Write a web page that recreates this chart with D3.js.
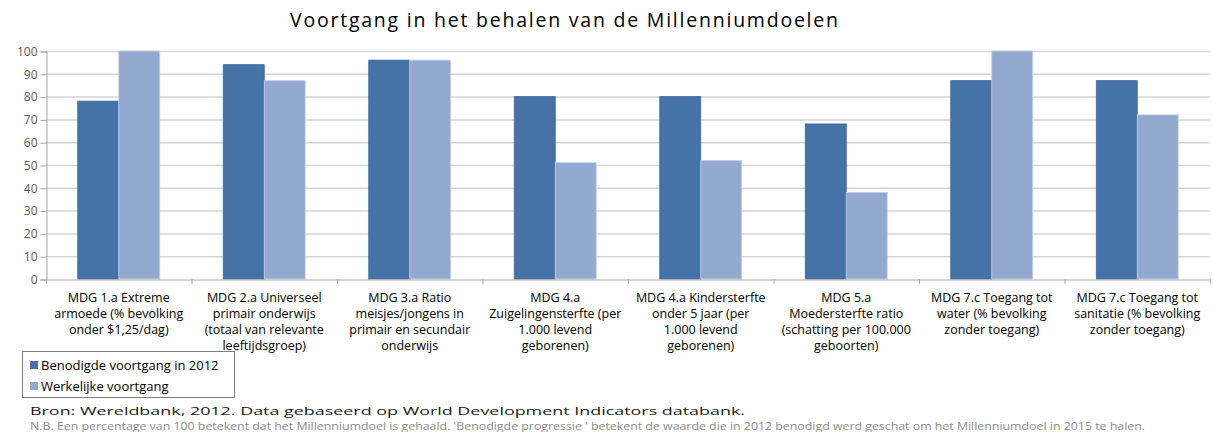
<!DOCTYPE html>
<html>
<head>
<meta charset="utf-8">
<script src="https://cdn.jsdelivr.net/npm/d3@7"></script>
<style>
  body { margin: 0; background: #fff; }
  svg { font-family: "Open Sans", "DejaVu Sans", sans-serif; }
</style>
</head>
<body>
<div id="chart"></div>
<script>
var categories = [
	['MDG 1.a Extreme', 'armoede (% bevolking', 'onder $1,25/dag)'],
	['MDG 2.a Universeel', 'primair onderwijs', '(totaal van relevante', 'leeftijdsgroep)'],
	['MDG 3.a Ratio', 'meisjes/jongens in', 'primair en secundair', 'onderwijs'],
	['MDG 4.a', 'Zuigelingensterfte (per', '1.000 levend', 'geborenen)'],
	['MDG 4.a Kindersterfte', 'onder 5 jaar (per', '1.000 levend', 'geborenen)'],
	['MDG 5.a', 'Moedersterfte ratio', '(schatting per 100.000', 'geboorten)'],
	['MDG 7.c Toegang tot', 'water (% bevolking', 'zonder toegang)'],
	['MDG 7.c Toegang tot', 'sanitatie (% bevolking', 'zonder toegang)']
];
var series_names = ['Benodigde voortgang in 2012', 'Werkelijke voortgang'];
var benodigd  = [78, 94, 96, 80, 80, 68, 87, 87];
var werkelijk = [100, 87, 96, 51, 52, 38, 100, 72];
var y_ticks = [0, 10, 20, 30, 40, 50, 60, 70, 80, 90, 100];
var title_text = 'Voortgang in het behalen van de Millenniumdoelen';
var source_text = 'Bron: Wereldbank, 2012. Data gebaseerd op World Development Indicators databank.';
var note_text = "N.B. Een percentage van 100 betekent dat het Millenniumdoel is gehaald. 'Benodigde  progressie ' betekent de waarde die in 2012 benodigd werd geschat om het Millenniumdoel in 2015 te halen.";

var colors = ['#4572a7', '#94a9d0'];

var chart_width  = 1213;
var chart_height = 432;
var plot_left    = 46;
var plot_right   = 1210;
var plot_top     = 51;
var plot_bottom  = 279;

var svg = d3.select('#chart')
	.append('svg')
	.attr('width', chart_width)
	.attr('height', chart_height);

// scales
var x_scale = d3.scaleBand()
	.domain(d3.range(categories.length))
	.range([plot_left, plot_right]);

var x_inner = d3.scaleBand()
	.domain([0, 1])
	.range([0, x_scale.bandwidth()])
	.paddingOuter(0.775)
	.paddingInner(0);

var y_scale = d3.scaleLinear()
	.domain([0, 100])
	.range([plot_bottom, plot_top]);

// title
svg.append('text')
	.attr('x', 564)
	.attr('y', 27)
	.attr('text-anchor', 'middle')
	.attr('font-size', 19.5)
	.attr('fill', '#000')
	.attr('textLength', 548)
	.attr('lengthAdjust', 'spacing')
	.text(title_text);

// gridlines
svg.append('g')
	.selectAll('line')
	.data(y_ticks.slice(1))
	.enter()
	.append('line')
	.attr('x1', plot_left)
	.attr('x2', plot_right)
	.attr('y1', function(d){ return y_scale(d) + 0.5; })
	.attr('y2', function(d){ return y_scale(d) + 0.5; })
	.attr('stroke', '#d4d4d4')
	.attr('stroke-width', 1.5);

// y axis
var y_axis = d3.axisLeft(y_scale)
	.tickValues(y_ticks)
	.tickSize(6)
	.tickPadding(3);

var y_g = svg.append('g')
	.attr('transform', 'translate(' + (plot_left + 0.5) + ',0.5)')
	.call(y_axis);
y_g.select('.domain').attr('stroke', '#a6a6a6');
y_g.selectAll('.tick line').attr('stroke', '#a6a6a6');
y_g.selectAll('.tick text')
	.attr('font-size', 12)
	.attr('fill', '#595959')
	.attr('font-family', '"Open Sans", sans-serif');

// bars
var groups = svg.append('g')
	.selectAll('g')
	.data(categories)
	.enter()
	.append('g')
	.attr('transform', function(d, i){ return 'translate(' + x_scale(i) + ',0)'; });

groups.selectAll('rect')
	.data(function(d, i){ return [benodigd[i], werkelijk[i]]; })
	.enter()
	.append('rect')
	.attr('x', function(d, j){ return x_inner(j); })
	.attr('y', function(d){ return y_scale(d); })
	.attr('width', x_inner.bandwidth())
	.attr('height', function(d){ return plot_bottom - y_scale(d); })
	.attr('fill', function(d, j){ return colors[j]; })
	.attr('stroke', function(d, j){ return j === 0 ? '#3d6697' : '#c6d1e6'; })
	.attr('stroke-width', 0.8);

// x axis
var x_axis = d3.axisBottom(x_scale)
	.tickSize(0)
	.tickFormat('');
var x_g = svg.append('g')
	.attr('transform', 'translate(0,' + (plot_bottom + 0.5) + ')')
	.call(x_axis);
x_g.select('.domain').attr('stroke', '#a6a6a6');

// boundary ticks
svg.append('g')
	.selectAll('line')
	.data(d3.range(categories.length + 1))
	.enter()
	.append('line')
	.attr('x1', function(d){ return plot_left + d * x_scale.step() + 0.5; })
	.attr('x2', function(d){ return plot_left + d * x_scale.step() + 0.5; })
	.attr('y1', plot_bottom)
	.attr('y2', plot_bottom + 5)
	.attr('stroke', '#a6a6a6');

// category labels
groups.append('text')
	.attr('text-anchor', 'middle')
	.attr('font-size', 12.5)
	.attr('fill', '#000')
	.selectAll('tspan')
	.data(function(d){ return d; })
	.enter()
	.append('tspan')
	.attr('x', x_scale.bandwidth() / 2)
	.attr('y', function(d, k){ return 302 + k * 16; })
	.text(function(d){ return d; });

// legend
var legend = svg.append('g');
legend.append('rect')
	.attr('x', 22.5)
	.attr('y', 351.5)
	.attr('width', 212)
	.attr('height', 46)
	.attr('fill', '#fff')
	.attr('stroke', '#7f7f7f');

var items = legend.selectAll('g')
	.data(series_names)
	.enter()
	.append('g')
	.attr('transform', function(d, i){ return 'translate(30,' + (365 + i * 21) + ')'; });
items.append('rect')
	.attr('x', 0)
	.attr('y', -4)
	.attr('width', 8)
	.attr('height', 8)
	.attr('fill', function(d, i){ return colors[i]; });
items.append('text')
	.attr('x', 11)
	.attr('y', 5)
	.attr('font-size', 13)
	.attr('fill', '#000')
	.text(function(d){ return d; });

// footnotes
svg.append('text')
	.attr('x', 30)
	.attr('y', 415)
	.attr('font-size', 11.5)
	.attr('fill', '#1a1a1a')
	.attr('textLength', 715)
	.attr('lengthAdjust', 'spacingAndGlyphs')
	.text(source_text);

svg.append('text')
	.attr('x', 30)
	.attr('y', 429.5)
	.attr('font-size', 11)
	.attr('fill', '#8c8c8c')
	.attr('textLength', 1115)
	.attr('lengthAdjust', 'spacingAndGlyphs')
	.text(note_text);
</script>
</body>
</html>
